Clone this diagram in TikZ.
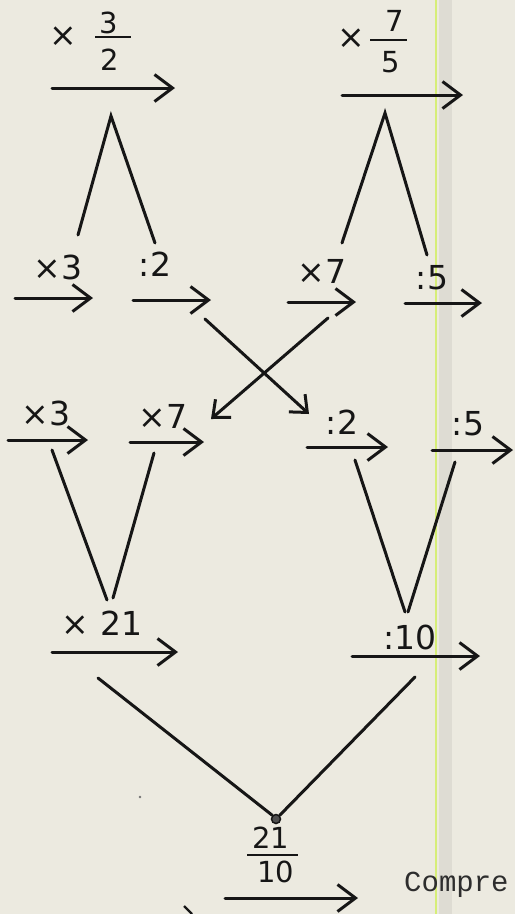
\documentclass[tikz,border=0pt]{standalone}
\usepackage{fontspec}
\setmainfont{DejaVu Sans}
\newfontfamily\typew{Liberation Mono}
\usetikzlibrary{arrows.meta}
\definecolor{paper}{HTML}{ECEAE0}
\definecolor{ink}{HTML}{161616}
\definecolor{margin}{HTML}{D6EE78}
\begin{document}
\begin{tikzpicture}[x=1pt,y=-1pt,
  lab/.style={font=\fontsize{33}{35}\selectfont, text=ink, inner sep=0pt},
  fr/.style={font=\fontsize{29}{31}\selectfont, text=ink, inner sep=0pt},
  op/.style={draw=ink, line width=3pt, line cap=round, -{Straight Barb[length=18pt,width=27pt,line width=3pt]}},
  cross/.style={draw=ink, line width=3pt, line cap=round, -{Straight Barb[length=14pt,width=24pt,line width=3pt]}},
  leg/.style={draw=ink, line width=3pt, line cap=round},
  bar/.style={draw=ink, line width=2.6pt}]
\useasboundingbox (0,0) rectangle (515,914);
\fill[paper] (0,0) rectangle (515,914);
\fill[paper!94!black] (439,0) rectangle (452,914);
\coordinate (m1) at (436,0); \coordinate (m2) at (436,914);
\draw[margin, line width=1.6pt] (m1) -- (m2);

% ---------- top left: x 3/2
\node[lab] (tlx) at (63,37) {×};
\node[fr] (tln) at (109,23) {3};
\coordinate (tlb1) at (95,37); \coordinate (tlb2) at (131,37);
\draw[bar] (tlb1) -- (tlb2);
\node[fr] (tld) at (110,60) {2};
\coordinate (tla) at (52,88); \coordinate (tlb) at (175,88);
\draw[op] (tla) -- (tlb);
\coordinate (tlap) at (111,116);
\coordinate (tll) at (78,235); \coordinate (tlr) at (155,243);
\draw[leg] (tll) -- (tlap) -- (tlr);

% ---------- top right: x 7/5
\node[lab] (trx) at (351,39) {×};
\node[fr] (trn) at (395,21) {7};
\coordinate (trb1) at (370,40); \coordinate (trb2) at (407,40);
\draw[bar] (trb1) -- (trb2);
\node[fr] (trd) at (391,62) {5};
\coordinate (tra) at (342,95); \coordinate (trb) at (463,95);
\draw[op] (tra) -- (trb);
\coordinate (trap) at (385,113);
\coordinate (trl) at (342,243); \coordinate (trr) at (427,255);
\draw[leg] (trl) -- (trap) -- (trr);

% ---------- row 2
\node[lab] (r2a) at (58,267) {×3};
\coordinate (r2a1) at (15,298); \coordinate (r2a2) at (93,298);
\draw[op] (r2a1) -- (r2a2);
\node[lab] (r2b) at (155,264) {:2};
\coordinate (r2b1) at (133,300); \coordinate (r2b2) at (211,300);
\draw[op] (r2b1) -- (r2b2);
\node[lab] (r2c) at (322,271) {×7};
\coordinate (r2c1) at (288,302); \coordinate (r2c2) at (356,302);
\draw[op] (r2c1) -- (r2c2);
\node[lab] (r2d) at (432,278) {:5};
\coordinate (r2d1) at (405,303); \coordinate (r2d2) at (482,303);
\draw[op] (r2d1) -- (r2d2);

% ---------- crossing arrows
\coordinate (c1s) at (205,319); \coordinate (c1e) at (309,414);
\draw[cross] (c1s) -- (c1e);
\coordinate (c2s) at (328,318); \coordinate (c2e) at (211,419);
\draw[cross] (c2s) -- (c2e);

% ---------- row 3
\node[lab] (r3a) at (46,413) {×3};
\coordinate (r3a1) at (8,440); \coordinate (r3a2) at (88,440);
\draw[op] (r3a1) -- (r3a2);
\node[lab] (r3b) at (163,416) {×7};
\coordinate (r3b1) at (130,442); \coordinate (r3b2) at (204,442);
\draw[op] (r3b1) -- (r3b2);
\node[lab] (r3c) at (342,422) {:2};
\coordinate (r3c1) at (307,447); \coordinate (r3c2) at (388,447);
\draw[op] (r3c1) -- (r3c2);
\node[lab] (r3d) at (468,424) {:5};
\coordinate (r3d1) at (432,450); \coordinate (r3d2) at (513,450);
\draw[op] (r3d1) -- (r3d2);

% V legs row 3 -> row 4
\coordinate (v1a) at (52,450); \coordinate (v1b) at (107,600);
\coordinate (v1c) at (113,598); \coordinate (v1d) at (154,453);
\draw[leg] (v1a) -- (v1b); \draw[leg] (v1c) -- (v1d);
\coordinate (v2a) at (355,460); \coordinate (v2b) at (405,612);
\coordinate (v2c) at (408,612); \coordinate (v2d) at (455,462);
\draw[leg] (v2a) -- (v2b); \draw[leg] (v2c) -- (v2d);

% ---------- row 4
\node[lab] (r4a) at (102,623) {× 21};
\coordinate (r4a1) at (52,652); \coordinate (r4a2) at (178,652);
\draw[op] (r4a1) -- (r4a2);
\node[lab] (r4b) at (410,637) {:10};
\coordinate (r4b1) at (352,656); \coordinate (r4b2) at (480,656);
\draw[op] (r4b1) -- (r4b2);

% ---------- bottom V
\coordinate (bl) at (98,678); \coordinate (br) at (415,677);
\node[circle, draw=ink, fill=ink!75, line width=1.5pt, minimum size=9pt, inner sep=0pt] (bdot) at (276,819) {};
\draw[leg] (bl) -- (bdot.north west);
\draw[leg] (br) -- (bdot.north east);

% ---------- 21/10
\node[fr] (bn) at (271,838) {21};
\coordinate (bb1) at (247,855); \coordinate (bb2) at (298,855);
\draw[bar] (bb1) -- (bb2);
\node[fr] (bd) at (276,872) {10};
\coordinate (ba1) at (225,898); \coordinate (ba2) at (358,898);
\draw[op] (ba1) -- (ba2);

% small cut-off mark at bottom left
\coordinate (sm1) at (184,906); \coordinate (sm2) at (192,914);
\draw[ink, line width=2.4pt] (sm1) -- (sm2);

% dust speck
\fill[ink!60] (140,797) circle (1.3pt);

% ---------- typed text
\node[anchor=west, inner sep=0pt, text=ink!90, font=\typew\fontsize{29}{31}\selectfont] (comp) at (404,885) {Compre};
\end{tikzpicture}
\end{document}
